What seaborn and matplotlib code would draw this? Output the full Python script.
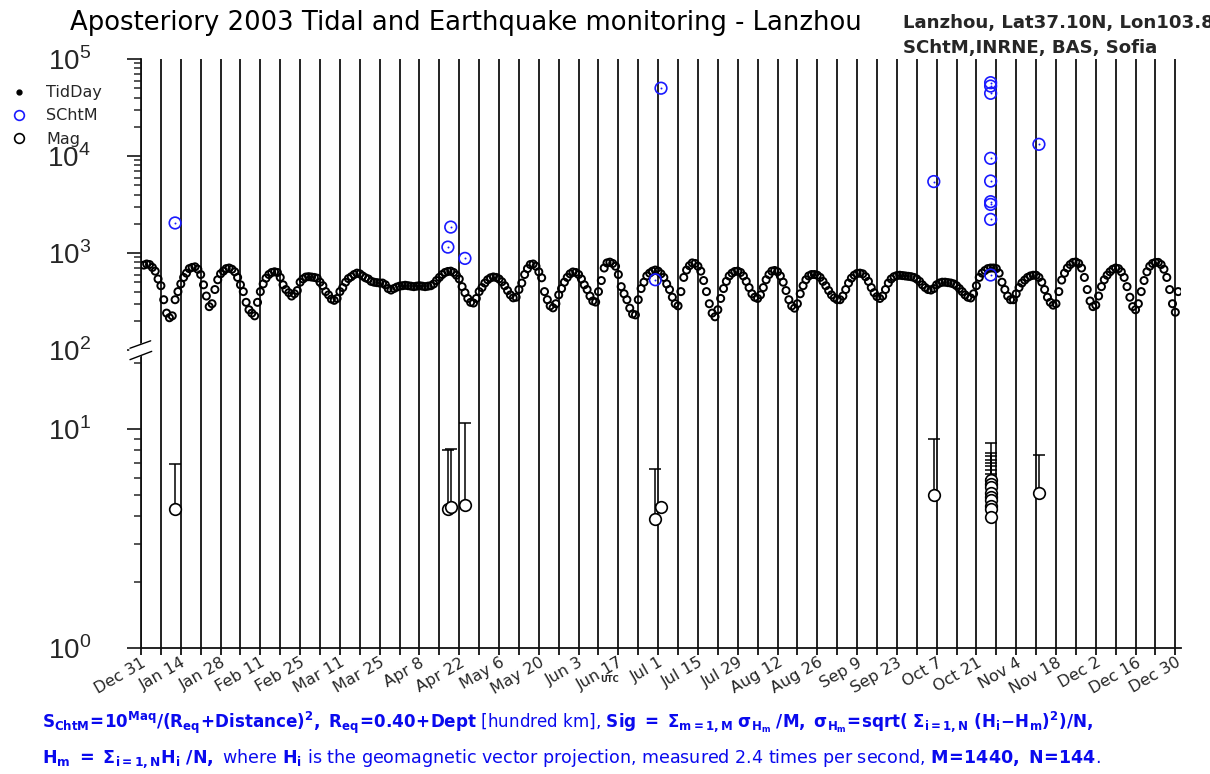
import matplotlib
matplotlib.use("Agg")
import matplotlib.pyplot as plt
import matplotlib.dates as mdates
from matplotlib.lines import Line2D
from matplotlib.ticker import FixedLocator, FixedFormatter, NullFormatter
import seaborn as sns
import pandas as pd
import numpy as np

# TidDay, one value per day of 2003
tid_jan = [750, 770, 760, 710, 650, 540, 460, 330, 240, 215, 225, 330, 400, 480, 560, 620,
           690, 710, 720, 680, 600, 470, 360, 280, 300, 420, 530, 610, 650, 690, 700]
tid_feb = [680, 640, 560, 470, 400, 310, 260, 240, 225, 310, 400, 480, 550, 600, 630, 640,
           630, 560, 470, 420, 390, 360, 380, 410, 500, 540, 565, 570]
tid_mar = [565, 560, 550, 500, 460, 400, 370, 335, 325, 340, 400, 440, 500, 545, 570, 600,
           620, 610, 580, 555, 540, 510, 500, 495, 490, 490, 470, 430, 415, 430, 445]
tid_apr = [455, 460, 465, 460, 455, 450, 455, 460, 455, 450, 455, 460, 480, 520, 560, 600,
           630, 645, 650, 630, 590, 540, 450, 390, 340, 310, 305, 340, 400, 440]
tid_may = [490, 530, 555, 566, 560, 540, 505, 460, 410, 370, 345, 350, 420, 490, 600, 690,
           760, 770, 730, 640, 555, 400, 330, 285, 272, 300, 370, 430, 500, 560, 610]
tid_jun = [637, 630, 600, 540, 470, 420, 360, 320, 312, 400, 520, 700, 790, 805, 780, 730,
           600, 450, 380, 330, 270, 235, 230, 330, 430, 500, 580, 620, 650, 667]
tid_jul = [650, 610, 560, 480, 420, 350, 300, 285, 400, 560, 667, 740, 790, 780, 730, 650,
           520, 400, 300, 240, 220, 260, 340, 430, 510, 580, 620, 645, 650, 630, 580]
tid_aug = [510, 440, 380, 350, 340, 370, 440, 530, 600, 650, 660, 640, 580, 500, 410, 330,
           285, 270, 300, 380, 460, 530, 580, 600, 600, 590, 560, 510, 460, 410, 370]
tid_sep = [345, 330, 330, 360, 420, 490, 550, 590, 615, 620, 610, 570, 510, 440, 390, 355,
           340, 360, 420, 490, 540, 570, 585, 590, 585, 580, 575, 570, 560, 540]
tid_oct = [510, 470, 440, 420, 415, 430, 470, 490, 500, 500, 495, 490, 480, 460, 430, 400,
           370, 350, 344, 380, 460, 560, 620, 660, 690, 700, 700, 690, 620, 500, 420]
tid_nov = [360, 330, 330, 380, 440, 490, 526, 560, 580, 590, 590, 560, 500, 420, 350, 310,
           290, 300, 400, 526, 620, 700, 760, 800, 808, 780, 700, 560, 420, 320]
tid_dec = [280, 290, 360, 450, 530, 590, 640, 680, 700, 690, 640, 560, 450, 350, 280, 260,
           300, 400, 520, 640, 730, 780, 800, 800, 760, 680, 560, 420, 300, 245, 400]

# SChtM events
scht_dates = ["2003-01-12", "2003-04-18", "2003-04-19", "2003-04-24", "2003-06-30",
              "2003-07-02", "2003-10-06"] + ["2003-10-26"] * 9 + ["2003-11-12"]
scht_vals = [2040, 1150, 1850, 880, 530, 50000, 5450,
             57000, 52600, 44300, 9460, 5520, 3380, 3170, 2220, 593, 13200]

# earthquake magnitudes and top of the Sig bar
mag_dates = ["2003-01-12", "2003-04-18", "2003-04-19", "2003-04-24", "2003-06-30",
             "2003-07-02", "2003-10-06"] + ["2003-10-26"] * 9 + ["2003-11-12"]
mag_vals = [4.3, 4.3, 4.4, 4.5, 3.9, 4.4, 5.0,
            5.85, 5.6, 5.45, 5.1, 4.9, 4.75, 4.45, 4.3, 3.95, 5.1]
mag_top = [6.9, 8.0, 8.1, 10.6, 6.6, 4.5, 9.0,
           8.6, 7.8, 7.5, 7.2, 7.0, 6.8, 6.5, 6.2, 5.9, 7.6]

y_ticks = [1, 10, 100, 1000, 10000, 100000]
y_labels = ["$10^{0}$", "$10^{1}$", "$10^{2}$", "$10^{3}$", "$10^{4}$", "$10^{5}$"]

tid = pd.DataFrame({
    "day": pd.date_range("2003-01-01", "2003-12-31", freq="D"),
    "val": tid_jan + tid_feb + tid_mar + tid_apr + tid_may + tid_jun +
           tid_jul + tid_aug + tid_sep + tid_oct + tid_nov + tid_dec,
})
scht = pd.DataFrame({"day": pd.to_datetime(scht_dates), "val": scht_vals})
mag = pd.DataFrame({"day": pd.to_datetime(mag_dates), "val": mag_vals, "top": mag_top})

sns.set_theme(style="ticks")
plt.rcParams["font.family"] = ["DejaVu Sans"]
plt.rcParams["mathtext.fontset"] = "custom"
plt.rcParams["mathtext.rm"] = "Liberation Sans"

# broken log axis: 3 decades on top (10^2..10^5), stretched lower part
LOW, UP, BRK = 219.0, 97.0, 298.0


def fwd(v):
    L = np.log10(np.clip(np.asarray(v, float), 1e-6, None))
    return np.where(L >= 2, BRK + (L - 2) * UP, np.minimum(L * LOW, BRK))


def inv(p):
    p = np.clip(np.asarray(p, float), -2000, 2000)
    return np.where(p > BRK, 10 ** (2 + (p - BRK) / UP), 10 ** (p / LOW))


fig = plt.figure(figsize=(12.1, 7.74), dpi=100)
ax = fig.add_axes([141 / 1210, 126 / 774, 1040 / 1210, 589 / 774])
ax.set_yscale("function", functions=(fwd, inv))

blue = "#1a1aff"
sns.scatterplot(data=tid, x="day", y="val", ax=ax, marker="o", s=26,
                facecolor="none", edgecolor="black", linewidth=1.4, zorder=3)
ax.errorbar(mag["day"], mag["val"], yerr=[np.zeros(len(mag)), mag["top"] - mag["val"]],
            fmt="none", ecolor="black", elinewidth=1.1, capsize=4, capthick=1.1, zorder=3)
sns.scatterplot(data=mag, x="day", y="val", ax=ax, marker="o", s=70,
                facecolor="white", edgecolor="black", linewidth=1.2, zorder=4)
sns.scatterplot(data=scht, x="day", y="val", ax=ax, marker="o", s=70,
                facecolor="none", edgecolor=blue, linewidth=1.2, zorder=4)
sns.scatterplot(data=scht, x="day", y="val", ax=ax, marker="o", s=2,
                color=blue, linewidth=0, zorder=4)

ax.set_ylim(1, 1e5)
ax.set_xlim(pd.Timestamp("2002-12-31"), pd.Timestamp("2004-01-01"))

week = pd.date_range("2002-12-31", "2003-12-30", freq="7D")
fortnight = week[::2]
ax.xaxis.set_major_locator(FixedLocator(mdates.date2num(fortnight)))
ax.xaxis.set_major_formatter(FixedFormatter([f"{d:%b} {d.day}" for d in fortnight]))
ax.xaxis.set_minor_locator(FixedLocator(mdates.date2num(week[1::2])))
ax.grid(which="both", axis="x", color="#111111", lw=1.3)
ax.grid(False, axis="y")

ax.yaxis.set_major_locator(FixedLocator(y_ticks))
ax.yaxis.set_major_formatter(FixedFormatter(y_labels))
minor = [k * 10.0 ** e for e in (0, 2, 3, 4) for k in range(2, 10)] + [20]
ax.yaxis.set_minor_locator(FixedLocator(minor))
ax.yaxis.set_minor_formatter(NullFormatter())

ax.tick_params(axis="x", which="both", direction="out", length=5, width=1.3, color="#111111")
ax.tick_params(axis="x", which="major", labelsize=11.5, pad=0)
ax.tick_params(axis="y", which="major", direction="out", length=10, width=1.3,
               labelsize=20, pad=26)
ax.tick_params(axis="y", which="minor", direction="out", length=5, width=1.1)
for lab in ax.get_xticklabels():
    lab.set_rotation(30)
    lab.set_ha("right")
    lab.set_va("top")
    lab.set_rotation_mode("anchor")
for lab in ax.get_yticklabels():
    lab.set_math_fontfamily("custom")

for s in ("top", "right"):
    ax.spines[s].set_visible(False)
for s in ("left", "bottom"):
    ax.spines[s].set_linewidth(1.3)
    ax.spines[s].set_color("#111111")
ax.set_xlabel("")
ax.set_ylabel("")

# axis break mark
yb = BRK / (BRK + 3 * UP)
up = ([-0.0106, 0.0093], [yb + 0.003, yb + 0.0156])
lo = ([-0.0106, 0.0103], [yb - 0.0164, yb - 0.0023])
ax.fill([up[0][0], up[0][1], lo[0][1], lo[0][0]], [up[1][0], up[1][1], lo[1][1], lo[1][0]],
        color="white", transform=ax.transAxes, clip_on=False, zorder=6)
for xs, ys in (up, lo):
    ax.plot(xs, ys, color="black", lw=1.0, transform=ax.transAxes, clip_on=False, zorder=7)

handles = [
    Line2D([], [], ls="", marker="o", color="black", markersize=3.5),
    Line2D([], [], ls="", marker="o", mfc="none", mec=blue, mew=1.2, markersize=7),
    Line2D([], [], ls="", marker="o", mfc="none", mec="black", mew=1.2, markersize=7),
]
fig.legend(handles, ["TidDay", "SChtM", "Mag"], loc="upper left",
           bbox_to_anchor=(0.0, 1 - 74 / 774), frameon=False, fontsize=11.5,
           handlelength=1.0, handletextpad=1.2, labelspacing=0.52, borderpad=0.2)

H = 774.0
title = fig.text(70 / 1210, 1 - 30 / H, "Aposteriory 2003 Tidal and Earthquake monitoring - Lanzhou",
                 fontsize=16, ha="left", va="baseline", color="black")
r1 = fig.text(903 / 1210, 1 - 28 / H, "Lanzhou, Lat37.10N, Lon103.8", fontsize=11,
              weight="bold", ha="left", va="baseline")
r2 = fig.text(903 / 1210, 1 - 53 / H, "SChtM,INRNE, BAS, Sofia", fontsize=11,
              weight="bold", ha="left", va="baseline")
fig.text(610 / 1210, 1 - 682 / H, "UTC", fontsize=6, weight="bold", ha="center", va="baseline")

try:
    from matplotlib.mathtext import MathTextParser
    MathTextParser("path").parse(r"$\underline{H}$")
    Hm = r"\underline{H}_{m}"
except Exception:
    Hm = r"H_{m}"

fblue = "#0a0aee"
line1 = (r"$\mathbf{S_{ChtM}\!=\!10^{Maq}/(R_{eq}\!+\!Distance)^{2},\ R_{eq}\!=\!0.40\!+\!Dept}$"
         r" [hundred km], "
         r"$\mathbf{Sig\ =\ \Sigma_{m=1,M}\ \sigma_{H_{m}}\ /M,\ \sigma_{H_{m}}\!=\!sqrt(\ "
         r"\Sigma_{i=1,N}\ (H_{i}\!-\!" + Hm + r")^{2})/N,}$")
line2 = (r"$\mathbf{" + Hm + r"\ =\ \Sigma_{i=1,N}H_{i}\ /N,}$ where $\mathbf{H_{i}}$"
         r" is the geomagnetic vector projection, measured 2.4 times per second, "
         r"$\mathbf{M\!=\!1440,\ N\!=\!144}$.")
f1 = fig.text(42 / 1210, 1 - 728 / H, line1, fontsize=12, color=fblue, ha="left", va="baseline",
              math_fontfamily="dejavusans")
f2 = fig.text(42 / 1210, 1 - 763 / H, line2, fontsize=12, color=fblue, ha="left", va="baseline",
              math_fontfamily="dejavusans")

fig.canvas.draw()
rend = fig.canvas.get_renderer()


def fit(t, width_px):
    w = t.get_window_extent(rend).width
    t.set_fontsize(t.get_fontsize() * width_px / w)


fit(title, 792)
fit(f1, 1052)
fit(f2, 1054)
fit(r2, 254)
r1.set_fontsize(r2.get_fontsize())

fig.savefig("out.png", dpi=100)
